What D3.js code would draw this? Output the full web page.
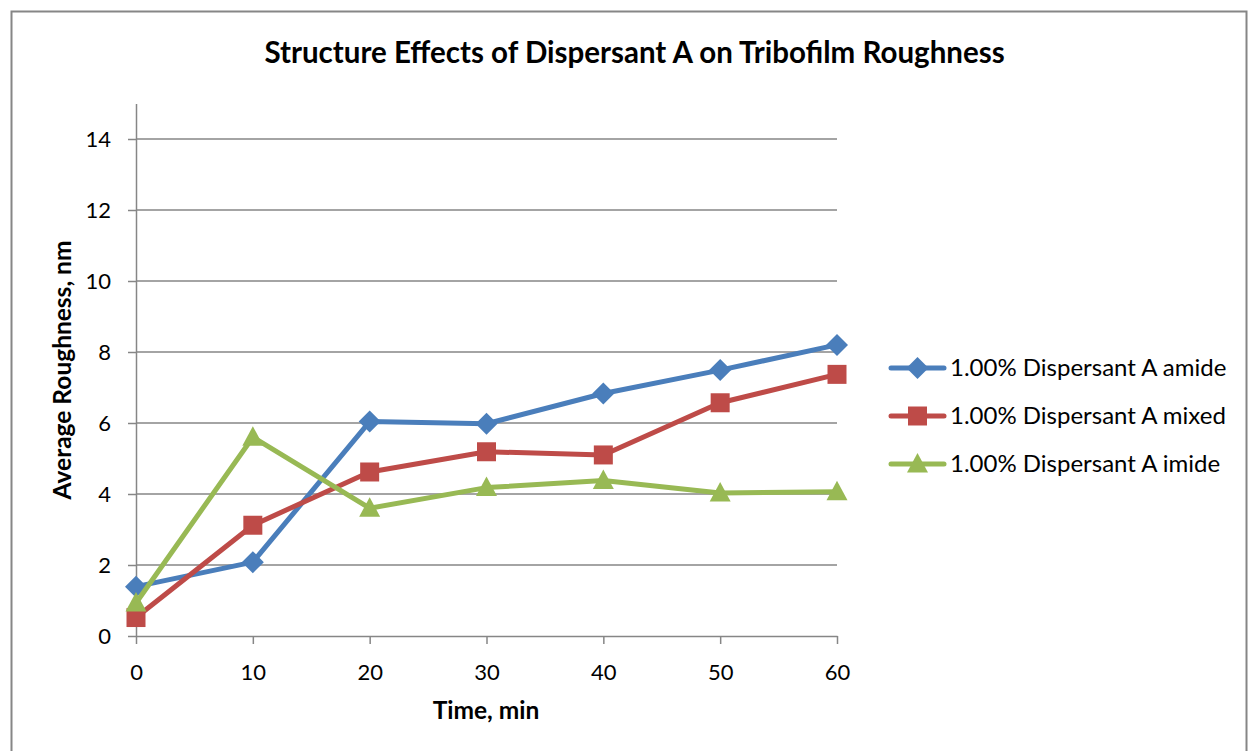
<!DOCTYPE html>
<html>
<head>
<meta charset="utf-8">
<script src="https://cdn.jsdelivr.net/npm/d3@7"></script>
<style>
  html, body { margin: 0; padding: 0; background: #fff; }
  svg { display: block; }
  text { font-family: Lato, "Open Sans", sans-serif; fill: #000; }
</style>
</head>
<body>
<svg id="chart" width="1248" height="751"></svg>
<script>
// Sampling times (min)
const times = [0, 10, 20, 30, 40, 50, 60];
// Average roughness (nm) per formulation
const amide = [1.39, 2.08, 6.04, 5.98, 6.83, 7.49, 8.20];
const mixed = [0.52, 3.12, 4.62, 5.19, 5.10, 6.57, 7.37];
const imide = [0.93, 5.60, 3.60, 4.18, 4.38, 4.03, 4.06];
const seriesNames = ["1.00% Dispersant A amide", "1.00% Dispersant A mixed", "1.00% Dispersant A imide"];
const yTicks = [0, 2, 4, 6, 8, 10, 12, 14];
const xTicks = [0, 10, 20, 30, 40, 50, 60];

const title = "Structure Effects of Dispersant A on Tribofilm Roughness";
const xTitle = "Time, min";
const yTitle = "Average Roughness, nm";

const svg = d3.select("#chart");
const gridColor = "#868686";

// Outer chart frame
svg.append("rect")
  .attr("x", 11.5).attr("y", 11.5)
  .attr("width", 1235).attr("height", 800)
  .attr("fill", "none").attr("stroke", gridColor).attr("stroke-width", 2);

const plot = { left: 136, right: 837, top: 103.5, bottom: 636 };
const x = d3.scaleLinear().domain([0, 60]).range([plot.left, plot.right]);
const y = d3.scaleLinear().domain([0, 15]).range([plot.bottom, plot.top]);

// Horizontal gridlines
svg.append("g").selectAll("line").data(yTicks.filter(d => d > 0)).join("line")
  .attr("x1", plot.left).attr("x2", plot.right)
  .attr("y1", d => y(d)).attr("y2", d => y(d))
  .attr("stroke", gridColor).attr("stroke-width", 1.5);

// Y axis
const yAxis = svg.append("g")
  .attr("transform", `translate(${plot.left},0)`)
  .call(d3.axisLeft(y).tickValues(yTicks).tickSize(8).tickSizeOuter(0).tickPadding(17));
yAxis.select(".domain").attr("stroke", gridColor).attr("stroke-width", 1.5);
yAxis.selectAll(".tick line").attr("stroke", gridColor).attr("stroke-width", 1.5);
yAxis.selectAll(".tick text").style("font-size", "22px").style("font-family", "Lato, sans-serif").attr("fill", "#000");

// X axis
const xAxis = svg.append("g")
  .attr("transform", `translate(0,${plot.bottom})`)
  .call(d3.axisBottom(x).tickValues(xTicks).tickSize(8).tickSizeOuter(0).tickPadding(20));
xAxis.select(".domain").attr("stroke", gridColor).attr("stroke-width", 1.5);
xAxis.selectAll(".tick line").attr("stroke", gridColor).attr("stroke-width", 1.5);
xAxis.selectAll(".tick text").style("font-size", "22px").style("font-family", "Lato, sans-serif").attr("fill", "#000");

// Titles
svg.append("text").attr("x", 634.5).attr("y", 63).attr("text-anchor", "middle")
  .style("font-size", "29.5px").style("font-weight", "bold").text(title);
svg.append("text").attr("x", 486).attr("y", 719).attr("text-anchor", "middle")
  .style("font-size", "24.5px").style("font-weight", "bold").text(xTitle);
svg.append("text").attr("transform", "translate(71,370) rotate(-90)").attr("text-anchor", "middle")
  .style("font-size", "24.5px").style("font-weight", "bold").text(yTitle);

const series = [
  { name: seriesNames[0], values: amide, color: "#4A7EBB", symbol: "diamond" },
  { name: seriesNames[1], values: mixed, color: "#BE4B48", symbol: "square" },
  { name: seriesNames[2], values: imide, color: "#98B954", symbol: "triangle" }
];

function markerPath(kind) {
  if (kind === "diamond") return "M0,-11L11,0L0,11L-11,0Z";
  if (kind === "square") return "M-9.5,-9.5H9.5V9.5H-9.5Z";
  return "M0,-11L10.5,8.5L-10.5,8.5Z";
}

const line = d3.line().x((d, i) => x(times[i])).y(d => y(d));

series.forEach(s => {
  const g = svg.append("g");
  g.append("path").datum(s.values)
    .attr("d", line).attr("fill", "none")
    .attr("stroke", s.color).attr("stroke-width", 5)
    .attr("stroke-linejoin", "round").attr("stroke-linecap", "round");
  g.selectAll("path.m").data(s.values).join("path").attr("class", "m")
    .attr("transform", (d, i) => `translate(${x(times[i])},${y(d)})`)
    .attr("d", markerPath(s.symbol)).attr("fill", s.color);
});

// Legend
const legend = svg.append("g").attr("transform", "translate(891,368)");
series.forEach((s, i) => {
  const row = legend.append("g").attr("transform", `translate(0,${i * 48})`);
  row.append("line").attr("x1", 0).attr("x2", 53).attr("y1", 0).attr("y2", 0)
    .attr("stroke", s.color).attr("stroke-width", 5).attr("stroke-linecap", "round");
  row.append("path").attr("transform", "translate(26.5,0)").attr("d", markerPath(s.symbol)).attr("fill", s.color);
  row.append("text").attr("x", 59).attr("y", 8).style("font-size", "24px").text(s.name);
});
</script>
</body>
</html>
